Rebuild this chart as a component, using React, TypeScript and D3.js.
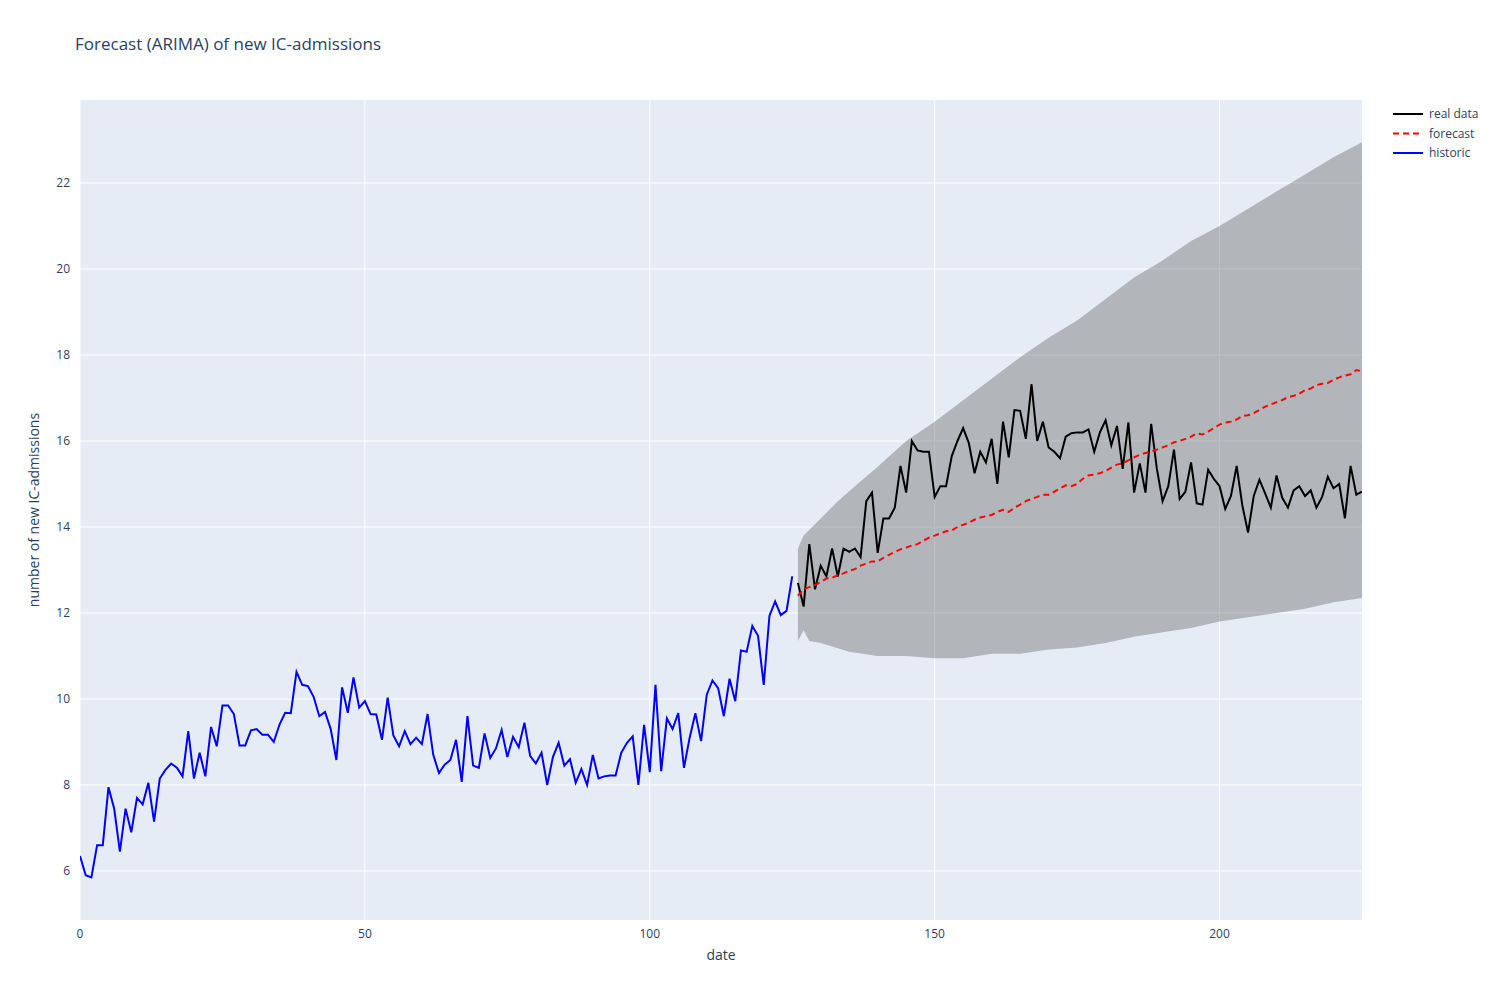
import React from 'react';
import * as d3 from 'd3';

// historic series, day 0..125
const historic = [
  6.35, 5.9, 5.85, 6.6, 6.6, 7.95, 7.45, 6.45, 7.45, 6.9, 7.7, 7.55, 8.05, 7.15, 8.15, 8.35, 8.5, 8.4, 8.2, 9.25,
  8.15, 8.75, 8.2, 9.35, 8.9, 9.85, 9.85, 9.65, 8.92, 8.92, 9.27, 9.3, 9.17, 9.17, 9.0, 9.4, 9.68, 9.67, 10.63, 10.33,
  10.3, 10.05, 9.6, 9.7, 9.3, 8.58, 10.27, 9.68, 10.5, 9.8, 9.95, 9.65, 9.64, 9.05, 10.03, 9.15, 8.9, 9.25, 8.95, 9.1,
  8.95, 9.65, 8.7, 8.28, 8.47, 8.58, 9.05, 8.07, 9.6, 8.45, 8.4, 9.2, 8.63, 8.85, 9.28, 8.65, 9.12, 8.88, 9.45, 8.68,
  8.5, 8.75, 8.0, 8.65, 8.98, 8.45, 8.6, 8.05, 8.37, 8.0, 8.7, 8.15, 8.2, 8.22, 8.22, 8.75, 8.98, 9.13, 8.0, 9.4,
  8.3, 10.33, 8.32, 9.55, 9.3, 9.67, 8.4, 9.1, 9.67, 9.02, 10.1, 10.43, 10.25, 9.6, 10.47, 9.95, 11.13, 11.1, 11.7, 11.47,
  10.33, 11.93, 12.27, 11.95, 12.05, 12.85,
];
const historicStart = 0;

// real data + forecast, day 126..225
const forecastStart = 126;
const realData = [
  12.7, 12.15, 13.6, 12.55, 13.1, 12.85, 13.5, 12.85, 13.5, 13.42, 13.5, 13.3, 14.6, 14.8, 13.4, 14.2, 14.2, 14.45, 15.42, 14.8,
  16.0, 15.78, 15.75, 15.75, 14.7, 14.95, 14.95, 15.65, 16.0, 16.3, 15.95, 15.25, 15.75, 15.5, 16.05, 15.0, 16.45, 15.62, 16.72, 16.7,
  16.05, 17.32, 16.0, 16.45, 15.85, 15.75, 15.6, 16.1, 16.18, 16.2, 16.2, 16.27, 15.75, 16.2, 16.48, 15.9, 16.35, 15.35, 16.43, 14.8,
  15.48, 14.8, 16.4, 15.35, 14.6, 14.95, 15.8, 14.65, 14.82, 15.5, 14.55, 14.52, 15.33, 15.12, 14.95, 14.42, 14.72, 15.42, 14.5, 13.87,
  14.72, 15.1, 14.78, 14.45, 15.2, 14.68, 14.45, 14.85, 14.95, 14.72, 14.85, 14.45, 14.7, 15.17, 14.9, 15.0, 14.2, 15.42, 14.75, 14.82,
];
const forecast = [
  12.4, 12.55, 12.6, 12.65, 12.72, 12.8, 12.82, 12.88, 12.92, 12.98, 13.02, 13.1, 13.15, 13.2, 13.2, 13.28, 13.35, 13.42, 13.48, 13.52,
  13.57, 13.6, 13.68, 13.75, 13.8, 13.85, 13.9, 13.92, 14.0, 14.05, 14.1, 14.17, 14.22, 14.25, 14.28, 14.35, 14.4, 14.35, 14.45, 14.52,
  14.6, 14.65, 14.7, 14.75, 14.75, 14.82, 14.9, 14.97, 14.95, 15.0, 15.12, 15.2, 15.22, 15.25, 15.3, 15.38, 15.45, 15.48, 15.55, 15.62,
  15.68, 15.72, 15.75, 15.8, 15.85, 15.9, 15.97, 16.0, 16.05, 16.1, 16.18, 16.15, 16.22, 16.3, 16.38, 16.43, 16.45, 16.5, 16.58, 16.6,
  16.65, 16.72, 16.8, 16.85, 16.9, 16.95, 17.02, 17.05, 17.1, 17.18, 17.22, 17.3, 17.33, 17.35, 17.42, 17.48, 17.52, 17.55, 17.65, 17.62,
];

// confidence band, sampled days
const bandUpperDays = [126, 127, 130, 133, 136, 140, 145, 150, 155, 160, 165, 170, 175, 180, 185, 190, 195, 200, 205, 210, 215, 220, 225];
const bandUpper = [13.5, 13.8, 14.2, 14.6, 14.95, 15.4, 16.0, 16.45, 16.95, 17.45, 17.95, 18.4, 18.8, 19.3, 19.8, 20.2, 20.65, 21.0, 21.4, 21.8, 22.2, 22.6, 22.95];
const bandLowerDays = [126, 127, 128, 130, 135, 140, 145, 150, 155, 160, 165, 170, 175, 180, 185, 190, 195, 200, 205, 210, 215, 220, 225];
const bandLower = [11.35, 11.6, 11.35, 11.3, 11.1, 11.0, 11.0, 10.95, 10.95, 11.05, 11.05, 11.15, 11.2, 11.3, 11.45, 11.55, 11.65, 11.8, 11.9, 12.0, 12.1, 12.25, 12.35];

const xTicks = [0, 50, 100, 150, 200];
const yTicks = [6, 8, 10, 12, 14, 16, 18, 20, 22];

const legendItems = [
  { name: 'real data', color: 'black', dash: '' },
  { name: 'forecast', color: 'red', dash: '6,4' },
  { name: 'historic', color: 'blue', dash: '' },
];

const W = 1500, H = 1000;
const margin = { top: 100, right: 138, bottom: 80, left: 80 };
const font = '"Open Sans", "Noto Sans", sans-serif';
const textColor = '#2a3f5f';

export default function App() {
  const x = d3.scaleLinear().domain([0, 225]).range([margin.left, W - margin.right]);
  const y = d3.scaleLinear().domain([4.86, 23.93]).range([H - margin.bottom, margin.top]);

  const line = d3.line<[number, number]>().x(d => x(d[0])).y(d => y(d[1]));
  const histPts = historic.map((v, i) => [historicStart + i, v] as [number, number]);
  const realPts = realData.map((v, i) => [forecastStart + i, v] as [number, number]);
  const fcPts = forecast.map((v, i) => [forecastStart + i, v] as [number, number]);
  const upPts = bandUpperDays.map((d, i) => [d, bandUpper[i]] as [number, number]);
  const loPts = bandLowerDays.map((d, i) => [d, bandLower[i]] as [number, number]).reverse();
  const bandPath = line([...upPts, ...loPts]) + 'Z';

  return (
    <div style={{ position: 'absolute', left: 0, top: 0 }}>
      <svg width={W} height={H} style={{ display: 'block', fontFamily: font }}>
        <rect width={W} height={H} fill="white" />
        <rect x={margin.left} y={margin.top} width={W - margin.left - margin.right} height={H - margin.top - margin.bottom} fill="#E5ECF6" />
        <defs>
          <clipPath id="plot">
            <rect x={margin.left} y={margin.top} width={W - margin.left - margin.right} height={H - margin.top - margin.bottom} />
          </clipPath>
        </defs>
        {xTicks.map(t => (
          <g key={'x' + t}>
            <line x1={x(t)} x2={x(t)} y1={margin.top} y2={H - margin.bottom} stroke="white" strokeWidth={1} />
            <text x={x(t)} y={H - margin.bottom + 18} textAnchor="middle" fontSize={12} fill={textColor}>{t}</text>
          </g>
        ))}
        {yTicks.map(t => (
          <g key={'y' + t}>
            <line x1={margin.left} x2={W - margin.right} y1={y(t)} y2={y(t)} stroke="white" strokeWidth={1} />
            <text x={margin.left - 10} y={y(t) + 4} textAnchor="end" fontSize={12} fill={textColor}>{t}</text>
          </g>
        ))}
        <g clipPath="url(#plot)">
          <path d={bandPath} fill="rgba(128,128,128,0.5)" stroke="none" />
          <path d={line(realPts) || ''} fill="none" stroke="black" strokeWidth={2} />
          <path d={line(fcPts) || ''} fill="none" stroke="red" strokeWidth={2} strokeDasharray="6,4" />
          <path d={line(histPts) || ''} fill="none" stroke="blue" strokeWidth={2} />
        </g>
        <text x={75} y={50} fontSize={17} fill={textColor}>Forecast (ARIMA) of new IC-admissions</text>
        <text x={(margin.left + W - margin.right) / 2} y={960} textAnchor="middle" fontSize={14} fill={textColor}>date</text>
        <text transform={`translate(39,${(margin.top + H - margin.bottom) / 2}) rotate(-90)`} textAnchor="middle" fontSize={14} fill={textColor}>number of new IC-admissions</text>
        {legendItems.map((it, i) => (
          <g key={it.name} transform={`translate(1393,${114 + i * 19.5})`}>
            <line x1={0} x2={30} y1={0} y2={0} stroke={it.color} strokeWidth={2} strokeDasharray={it.dash || undefined} />
            <text x={36} y={4} fontSize={12} fill={textColor}>{it.name}</text>
          </g>
        ))}
      </svg>
    </div>
  );
}
